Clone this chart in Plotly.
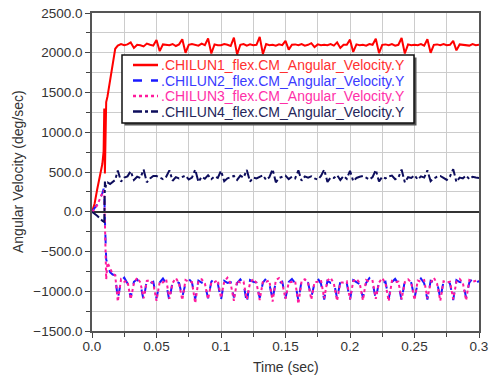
import plotly.graph_objects as go

time = [0, 0.002, 0.004, 0.006, 0.008, 0.009, 0.0095, 0.010, 0.0105, 0.011, 0.012, 0.014, 0.016, 0.018,
        0.02, 0.0225, 0.025, 0.0275, 0.03, 0.0325, 0.035, 0.0375, 0.04, 0.0425, 0.045, 0.0475,
        0.05, 0.0525, 0.055, 0.0575, 0.06, 0.0625, 0.065, 0.0675, 0.07, 0.0725, 0.075, 0.0775,
        0.08, 0.0825, 0.085, 0.0875, 0.09, 0.0925, 0.095, 0.0975, 0.10, 0.1025, 0.105, 0.1075,
        0.11, 0.1125, 0.115, 0.1175, 0.12, 0.1225, 0.125, 0.1275, 0.13, 0.1325, 0.135, 0.1375,
        0.14, 0.1425, 0.145, 0.1475, 0.15, 0.1525, 0.155, 0.1575, 0.16, 0.1625, 0.165, 0.1675,
        0.17, 0.1725, 0.175, 0.1775, 0.18, 0.1825, 0.185, 0.1875, 0.19, 0.1925, 0.195, 0.1975,
        0.20, 0.2025, 0.205, 0.2075, 0.21, 0.2125, 0.215, 0.2175, 0.22, 0.2225, 0.225, 0.2275,
        0.23, 0.2325, 0.235, 0.2375, 0.24, 0.2425, 0.245, 0.2475, 0.25, 0.2525, 0.255, 0.2575,
        0.26, 0.2625, 0.265, 0.2675, 0.27, 0.2725, 0.275, 0.2775, 0.28, 0.2825, 0.285, 0.2875,
        0.29, 0.2925, 0.295, 0.2975, 0.30]

chilun1 = [0, 100, 280, 430, 600, 760, 1300, 480, 1320, 1380, 1450, 1650, 1850, 2050,
           2090, 2110, 2095, 2105, 2130, 2060, 2100, 2095, 2080, 2115, 2100, 2090,
           2160, 2020, 2105, 2100, 2095, 2110, 2085, 2105, 2170, 2000, 2100, 2110,
           2100, 2090, 2115, 2095, 2180, 1990, 2105, 2095, 2095, 2110, 2100, 2085,
           2190, 1980, 2100, 2110, 2090, 2105, 2095, 2100, 2200, 1985, 2110, 2095,
           2100, 2090, 2105, 2095, 2150, 2040, 2100, 2105, 2095, 2110, 2090, 2100,
           2120, 2070, 2105, 2095, 2100, 2095, 2110, 2090, 2130, 2060, 2100, 2100,
           2165, 2010, 2105, 2095, 2100, 2090, 2110, 2100, 2175, 1995, 2100, 2105,
           2095, 2110, 2090, 2100, 2185, 1990, 2105, 2095, 2100, 2095, 2110, 2090,
           2170, 2000, 2100, 2105, 2095, 2110, 2095, 2100, 2150, 2030, 2105, 2100,
           2100, 2090, 2110, 2095, 2100]

chilun2 = [0, 40, 90, 160, 230, 290, 250, -100, -450, -600, -650, -760, -790, -800,
           -1100, -870, -830, -900, -1080, -880, -850, -910, -1110, -860, -900, -880,
           -1090, -890, -840, -905, -1120, -870, -880, -895, -1070, -900, -845, -890,
           -1100, -865, -890, -910, -1090, -880, -835, -900, -1110, -870, -895, -885,
           -1080, -895, -850, -905, -1150, -860, -880, -890, -1085, -890, -840, -910,
           -1100, -875, -900, -880, -1090, -885, -845, -900, -1115, -865, -885, -895,
           -1075, -900, -840, -905, -1105, -870, -895, -885, -1090, -880, -850, -900,
           -1110, -860, -885, -910, -1080, -895, -835, -890, -1100, -875, -900, -880,
           -1095, -885, -845, -905, -1115, -865, -890, -895, -1085, -900, -840, -900,
           -1105, -870, -895, -885, -1090, -880, -850, -905, -1110, -860, -885, -890,
           -1080, -890, -840, -900, -870]

chilun3 = [0, 30, 80, 150, 220, 270, 230, -200, -600, -850, -640, -720, -780, -800,
           -1130, -850, -880, -870, -1100, -900, -830, -890, -1090, -870, -860, -905,
           -1120, -880, -890, -850, -1095, -895, -835, -900, -1110, -860, -880, -885,
           -1150, -870, -850, -900, -1100, -890, -885, -860, -1085, -880, -830, -905,
           -1120, -865, -890, -880, -1100, -895, -845, -895, -1110, -875, -880, -865,
           -1130, -860, -835, -900, -1095, -890, -885, -875, -1160, -870, -850, -890,
           -1105, -885, -880, -860, -1090, -865, -830, -905, -1120, -890, -890, -875,
           -1100, -875, -845, -895, -1115, -860, -880, -870, -1095, -890, -835, -900,
           -1125, -870, -885, -880, -1100, -885, -850, -890, -1110, -865, -880, -860,
           -1090, -895, -830, -905, -1120, -875, -890, -880, -1100, -880, -845, -895,
           -1115, -860, -880, -870, -860]

chilun4 = [0, -20, -50, -80, -110, -130, -150, 380, 300, 360, 370, 350, 380, 400,
           520, 380, 430, 445, 510, 400, 440, 425, 530, 370, 420, 450,
           450, 425, 410, 440, 520, 390, 435, 420, 440, 455, 405, 430,
           530, 375, 440, 415, 460, 410, 445, 425, 515, 385, 420, 440,
           450, 400, 455, 430, 525, 380, 430, 420, 440, 460, 400, 435,
           535, 370, 425, 445, 455, 410, 440, 420, 520, 390, 445, 430,
           445, 420, 405, 450, 530, 375, 430, 425, 460, 400, 450, 415,
           515, 385, 425, 440, 450, 430, 405, 435, 525, 380, 440, 420,
           445, 455, 410, 430, 530, 370, 435, 425, 460, 405, 445, 430,
           520, 385, 420, 440, 450, 425, 400, 445, 535, 375, 430, 420,
           455, 410, 440, 430, 425]

names = [".CHILUN1_flex.CM_Angular_Velocity.Y", ".CHILUN2_flex.CM_Angular_Velocity.Y",
         ".CHILUN3_flex.CM_Angular_Velocity.Y", ".CHILUN4_flex.CM_Angular_Velocity.Y"]
line_colors = ["#ff0000", "#1a1aff", "#ff1a9c", "#0d0d5c"]
text_colors = ["#ff3030", "#3a3aff", "#ff30a8", "#25255a"]
dashes = ["solid", "dash", "dot", "dashdot"]
series = [chilun1, chilun2, chilun3, chilun4]

xtick_vals = [0, 0.05, 0.1, 0.15, 0.2, 0.25, 0.3]
xtick_text = ["0.0", "0.05", "0.1", "0.15", "0.2", "0.25", "0.3"]

# layout geometry (pixels)
W, H = 496, 378
L, R, T, B = 92, 479, 13, 331
PW, PH = R - L, B - T


def px_x(px):
    return (px - L) / PW


def px_y(py):
    return (B - py) / PH


fig = go.Figure()
for nm, ys, lc, ds in zip(names, series, line_colors, dashes):
    fig.add_trace(go.Scatter(
        x=time, y=ys, mode="lines", name=nm, showlegend=False,
        line=dict(color=lc, width=2, dash=ds),
    ))

font_family = "Liberation Sans, Arial, sans-serif"

# custom legend
lg_x0, lg_x1, lg_y0, lg_y1 = 122, 414, 55, 123
rows = [65, 80.5, 96, 111.5]
shapes = [
    dict(type="rect", xref="paper", yref="paper", layer="above",
         x0=px_x(lg_x0 + 2.5), x1=px_x(lg_x1 + 2.5), y0=px_y(lg_y0 + 2.5), y1=px_y(lg_y1 + 2.5),
         fillcolor="#555555", line=dict(width=0)),
    dict(type="rect", xref="paper", yref="paper", layer="above",
         x0=px_x(lg_x0), x1=px_x(lg_x1), y0=px_y(lg_y0), y1=px_y(lg_y1),
         fillcolor="white", line=dict(color="#111111", width=1.5)),
]
annotations = []
for ry, nm, lc, tc, ds in zip(rows, names, line_colors, text_colors, dashes):
    shapes.append(dict(type="line", xref="paper", yref="paper", layer="above",
                       x0=px_x(133), x1=px_x(158), y0=px_y(ry), y1=px_y(ry),
                       line=dict(color=lc, width=2.5, dash=ds)))
    annotations.append(dict(xref="paper", yref="paper", x=px_x(159), y=px_y(ry),
                            xanchor="left", yanchor="middle", showarrow=False,
                            text=nm, font=dict(family=font_family, size=14, color=tc)))

annotations.append(dict(xref="paper", yref="paper", x=0, y=0.5, xshift=18 - L,
                        xanchor="center", yanchor="middle", textangle=-90, showarrow=False,
                        text="Angular Velocity (deg/sec)",
                        font=dict(family=font_family, size=14, color="#333333")))
annotations.append(dict(xref="paper", yref="paper", x=0.5, y=0, yshift=-(367 - B),
                        xanchor="center", yanchor="middle", showarrow=False,
                        text="Time (sec)",
                        font=dict(family=font_family, size=14, color="#333333")))

fig.update_layout(
    width=W, height=H,
    margin=dict(l=L, r=W - R, t=T, b=H - B, autoexpand=False),
    paper_bgcolor="white", plot_bgcolor="white",
    font=dict(family=font_family, size=13.5, color="#333333"),
    showlegend=False,
    shapes=shapes, annotations=annotations,
    xaxis=dict(
        range=[0, 0.3], tickvals=xtick_vals, ticktext=xtick_text, automargin=False,
        showgrid=True, gridcolor="#cccccc", gridwidth=1,
        ticks="outside", ticklen=5, tickcolor="#444444", ticklabelstandoff=-3,
        minor=dict(dtick=0.025, showgrid=True, gridcolor="#cccccc", ticks="outside", ticklen=4, tickcolor="#444444"),
        showline=True, linecolor="#555555", linewidth=1.5, mirror=True,
        zeroline=False,
        tickfont=dict(size=13.5),
    ),
    yaxis=dict(
        range=[-1500, 2500], dtick=500, tickformat=".1f", automargin=False,
        showgrid=True, gridcolor="#cccccc", gridwidth=1,
        ticks="outside", ticklen=5, tickcolor="#444444",
        minor=dict(dtick=250, showgrid=True, gridcolor="#cccccc", ticks="outside", ticklen=4, tickcolor="#444444"),
        showline=True, linecolor="#555555", linewidth=1.5, mirror=True,
        zeroline=True, zerolinecolor="#333333", zerolinewidth=1.5,
        tickfont=dict(size=13.5),
    ),
)

fig.write_html("out.html")
